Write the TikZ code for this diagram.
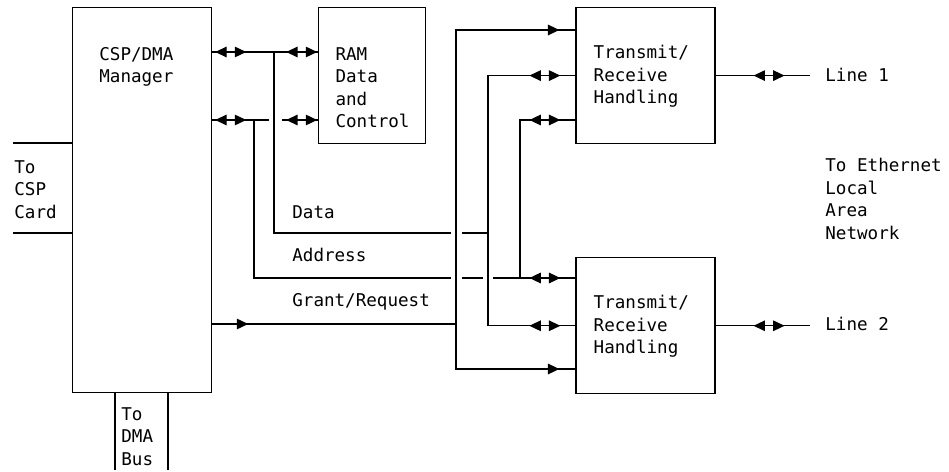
\documentclass[tikz,border=0pt]{standalone}
\usepackage{fontspec}
\usepackage{tikz}
\usetikzlibrary{positioning,calc,arrows.meta,decorations.markings}
\newfontfamily\diagfont{DejaVu Sans Mono}

\tikzset{
  blk/.style={draw, line width=0.7pt, inner sep=0pt},
  lbl/.style={font=\diagfont\fontsize{10}{12.8}\selectfont, align=left,
    inner sep=0pt, anchor=north west},
  wire/.style={line width=0.7pt},
  headtip/.tip={Triangle[length=6.5pt,width=6pt]},
  dbl/.style={postaction={decorate, decoration={markings,
      mark=at position #1 with {\arrowreversed{headtip}},
      mark=at position #1+0.62cm with {\arrow{headtip}}}}},
  onearr/.style={postaction={decorate, decoration={markings,
      mark=at position #1 with {\arrow{headtip}}}}}
}

\begin{document}
\begin{tikzpicture}[x=0.02cm, y=-0.02cm]
    \useasboundingbox (0,0) rectangle (949,472);
    % boxes
    \node[blk, minimum width=2.78cm, minimum height=7.70cm, anchor=north west] (mgr) at (72,7) {};
    \node[blk, minimum width=2.14cm, minimum height=2.72cm, right=2.12cm of mgr.north east, anchor=north west] (ram) {};
    \node[blk, minimum width=2.78cm, minimum height=2.72cm, right=2.98cm of ram.north east, anchor=north west] (txa) {};
    \node[blk, minimum width=2.78cm, minimum height=2.72cm, below=2.26cm of txa.south west, anchor=north west] (txb) {};
    % box texts
    \node[lbl] (mgrtxt) at ($(mgr.north west)+(27,40)$) {CSP/DMA\\Manager};
    \node[lbl] (ramtxt) at ($(ram.north west)+(17,40)$) {RAM\\Data\\and\\Control};
    \node[lbl] (txatxt) at ($(txa.north west)+(18,38)$) {Transmit/\\Receive\\Handling};
    \node[lbl] (txbtxt) at ($(txb.north west)+(18,38)$) {Transmit/\\Receive\\Handling};
    % outside texts
    \node[lbl] (csptxt) at (14,160) {To\\CSP\\Card};
    \node[lbl] (dmatxt) at (121,407) {To\\DMA\\Bus};
    \node[lbl, anchor=west] (line1) at (825,75) {Line 1};
    \node[lbl, anchor=west] (line2) at (825,324) {Line 2};
    \node[lbl] (lantxt) at (825,158) {To Ethernet\\Local\\Area\\Network};
    \node[lbl] (datatxt) at (292,205) {Data};
    \node[lbl] (addrtxt) at (292,248) {Address};
    \node[lbl] (granttxt) at (292,293) {Grant/Request};
    % rows and taps
    \coordinate (rowA) at (0,52);
    \coordinate (rowB) at (0,120);
    \coordinate (rowG1) at (0,30);
    \coordinate (rowG2) at (0,369);
    \coordinate (dline) at (0,233);
    \coordinate (aline) at (0,278);
    \coordinate (gline) at (0,324);
    \coordinate (dtap) at (274,52);
    \coordinate (atap) at (254,120);
    \coordinate (gbus) at (456,0);
    \coordinate (dbus) at (488,0);
    \coordinate (abus) at (520,0);
    \coordinate (cspA) at (13,143);
    \coordinate (cspB) at (13,233);
    \coordinate (dmaA) at (115,470);
    \coordinate (dmaB) at (168,470);
    % CSP card and DMA bus
    \draw[wire] (cspA) -- (cspA -| mgr.west);
    \draw[wire] (cspB) -- (cspB -| mgr.west);
    \draw[wire] (dmaA) -- (dmaA |- mgr.south);
    \draw[wire] (dmaB) -- (dmaB |- mgr.south);
    % data
    \draw[wire, dbl=0.06cm, dbl=-0.64cm] (mgr.east |- rowA) -- (ram.west |- rowA);
    \draw[wire] (dtap) |- ($(gbus |- dline)+(-5,0)$);
    \draw[wire] ($(gbus |- dline)+(6,0)$) -- (dbus |- dline);
    \draw[wire, dbl=-0.92cm] (dbus |- dline) |- (txa.west);
    \draw[wire, dbl=-0.92cm] (dbus |- dline) |- (txb.west);
    % address
    \draw[wire, dbl=0.06cm] (mgr.east |- rowB) -- ($(dtap |- rowB)+(-5,0)$);
    \draw[wire, dbl=-0.64cm] ($(dtap |- rowB)+(8,0)$) -- (ram.west |- rowB);
    \draw[wire] (atap) |- ($(gbus |- aline)+(-5,0)$);
    \draw[wire] ($(gbus |- aline)+(6,0)$) -- ($(dbus |- aline)+(-5,0)$);
    \draw[wire, dbl=-0.92cm] ($(dbus |- aline)+(5,0)$) -- (txb.west |- aline);
    \draw[wire, dbl=-0.92cm] (abus |- aline) |- (txa.west |- rowB);
    % grant/request
    \draw[wire, onearr=0.72cm] (mgr.east |- gline) -- (gbus |- gline);
    \draw[wire, onearr=-0.32cm] (gbus |- gline) |- (txa.west |- rowG1);
    \draw[wire, onearr=-0.32cm] (gbus |- gline) |- (txb.west |- rowG2);
    % lines
    \draw[wire, dbl=0.76cm, shorten >=0.3cm] (txa.east) -- (txa.east -| line1.west);
    \draw[wire, dbl=0.76cm, shorten >=0.3cm] (txb.east) -- (txb.east -| line2.west);
  \end{tikzpicture}
\end{document}
